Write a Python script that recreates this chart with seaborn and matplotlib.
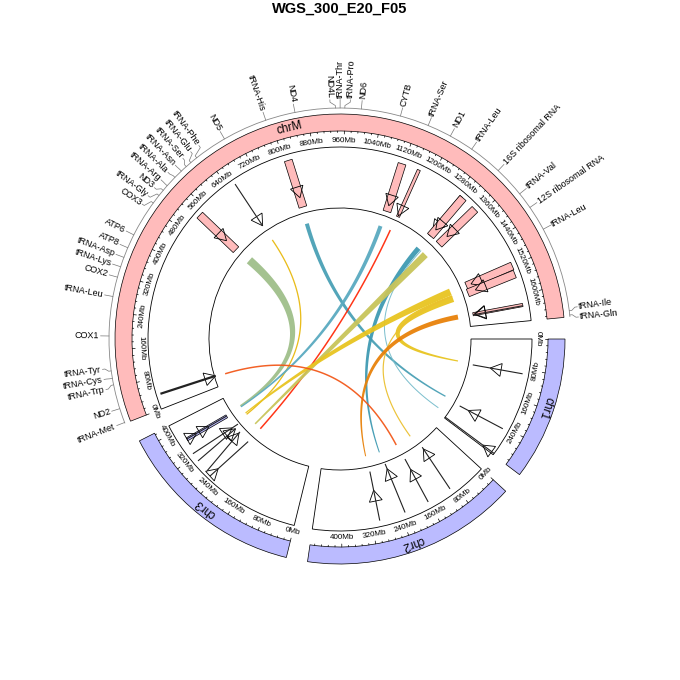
import numpy as np
import matplotlib
matplotlib.use("Agg")
import matplotlib.pyplot as plt
from matplotlib.patches import Wedge, Arc, Polygon
import seaborn as sns

sns.set_style("white")
plt.rcParams["font.family"] = ["Liberation Sans Narrow", "Liberation Sans", "DejaVu Sans"]
plt.rcParams["text.color"] = "black"

title = "WGS_300_E20_F05"

# sectors, lengths in axis units ("Mb" as printed on the axis)
chroms = ["chr1", "chr2", "chr3", "chrM"]
chrom_len = [316, 475, 420, 1670]
chrom_col = ["#BBBBFF", "#BBBBFF", "#BBBBFF", "#FFBBBB"]

# chrM gene annotation
gene_names = ["tRNA-Met", "ND2", "tRNA-Trp", "tRNA-Cys", "tRNA-Tyr", "COX1", "tRNA-Leu",
              "COX2", "tRNA-Lys", "tRNA-Asp", "ATP8", "ATP6", "COX3", "tRNA-Gly", "ND3",
              "tRNA-Arg", "tRNA-Ala", "tRNA-Asn", "tRNA-Ser", "tRNA-Glu", "tRNA-Phe", "ND5",
              "tRNA-His", "ND4", "ND4L", "tRNA-Thr", "tRNA-Pro", "ND6", "CYTB", "tRNA-Ser",
              "ND1", "tRNA-Leu", "16S ribosomal RNA", "tRNA-Val", "12S ribosomal RNA",
              "tRNA-Leu", "tRNA-Ile", "tRNA-Gln"]
gene_pos = [2, 33, 85, 99, 115, 189, 273, 315, 338, 359, 381, 411, 490, 510, 524, 537,
            561, 580, 594, 607, 623, 694, 790, 854, 940, 950, 960, 995, 1079, 1141, 1193,
            1246, 1318, 1385, 1421, 1475, 1657, 1666]

# track arrows: chromosome, start/end position, start/end y (0-1 in track), head place, kind
arr_chr = ["chrM", "chrM", "chrM", "chrM", "chrM", "chrM", "chrM", "chrM", "chrM", "chrM",
           "chrM", "chrM", "chrM",
           "chr1", "chr1", "chr1",
           "chr2", "chr2", "chr2", "chr2",
           "chr3", "chr3", "chr3", "chr3", "chr3", "chr3"]
arr_p0 = [38, 536, 659, 812, 1116, 1163, 1294, 1300, 1343, 1521, 1543, 1627, 1629,
          92, 246, 312,
          299, 229, 162, 95,
          366, 367, 326, 303, 268, 253]
arr_p1 = [42, 529, 657, 816, 1122, 1166, 1297, 1302, 1344, 1523, 1548, 1627, 1629,
          94, 249, 312,
          296, 235, 162, 87,
          357, 358, 310, 303, 284, 239]
arr_y0 = [0.93, 0.92, 0.92, 0.90, 0.90, 0.91, 0.92, 0.92, 0.92, 0.92, 0.91, 0.90, 0.90,
          0.90, 0.90, 1.00,
          0.90, 0.89, 0.89, 0.90,
          0.85, 0.85, 0.91, 0.92, 0.92, 0.95]
arr_y1 = [-0.02, 0.10, 0.10, 0.10, 0.08, 0.07, 0.10, 0.10, 0.10, 0.10, 0.08, 0.07, 0.07,
          0.07, 0.10, 0.00,
          0.08, 0.03, 0.09, 0.08,
          0.10, 0.10, 0.03, 0.11, 0.09, 0.11]
arr_head = [1.0, 0.74, 1.0, 0.80, 0.88, 0.98, 0.90, 0.84, 0.78, 0.90, 0.84, 0.97, 0.97,
            0.65, 0.80, 0.23,
            0.62, 0.90, 0.76, 0.96,
            0.55, 0.02, 0.87, 1.0, 0.97, 0.05]
arr_kind = ["thick", "wide", "line", "wide", "wide", "narrow", "narrow", "wide", "wide",
            "wide", "wide", "narrow", "line",
            "line", "line", "line",
            "line", "line", "line", "line",
            "narrow", "line", "line", "line", "line", "line"]

# links: chrM end -> other end, widths at both ends, colour
link_p1 = [532, 657, 813, 1118, 1161, 1298, 1312, 1336, 1520, 1549, 1540, 1627, 39]
link_c2 = ["chr3", "chr3", "chr1", "chr3", "chr3", "chr2", "chr1", "chr3", "chr3", "chr1",
           "chr2", "chr2", "chr2"]
link_p2 = [360, 318, 243, 356, 237, 241, 298, 266, 325, 90, 99, 299, 166]
link_w1 = [8, 1.3, 4, 4, 1.5, 5, 1.0, 7, 7, 7, 1.2, 5, 1.5]
link_w2 = [2, 1.3, 1.3, 1.2, 1.5, 1.0, 1.0, 1.5, 1.2, 1.2, 1.2, 1.0, 1.5]
link_col = ["#9FBF8A", "#E8B90F", "#4AA0B5", "#5AAAC0", "#FF2A0A", "#3F9AB2", "#76BCCB",
            "#C8C45A", "#E8C420", "#E8C420", "#EBC030", "#E8820A", "#F2581A"]

# ---- layout (pixel space, 680 x 680) ----
cx, cy = 340, 341
gap = 5.5
scale = (360 - gap * len(chroms)) / sum(chrom_len)
sec_start = []
a = 0.0
for L in chrom_len:
    sec_start.append(a)
    a -= L * scale + gap
ci = {c: i for i, c in enumerate(chroms)}

R_BAND_OUT, R_BAND_IN = 225, 208
R_TRK_OUT, R_TRK_IN = 192, 131
R_LINK = 120
R_GENE = 231


def ang(c, pos):
    return sec_start[ci[c]] - np.asarray(pos, dtype=float) * scale


def pt(c, pos, r):
    t = np.deg2rad(ang(c, pos))
    return np.array([cx + r * np.cos(t), cy + r * np.sin(t)])


def nice_rot(deg):
    deg = deg % 360
    return deg - 90 if deg < 180 else deg + 90 - 360


fig = plt.figure(figsize=(6.8, 6.8), dpi=100)
ax = fig.add_axes([0, 0, 1, 1])
ax.set_xlim(0, 680)
ax.set_ylim(0, 680)
ax.set_aspect("equal")
ax.axis("off")

# ideogram, axes, track boxes
for c, L, col in zip(chroms, chrom_len, chrom_col):
    a0, a1 = ang(c, 0), ang(c, L)
    ax.add_patch(Wedge((cx, cy), R_BAND_OUT, a1, a0, width=R_BAND_OUT - R_BAND_IN,
                       facecolor=col, edgecolor="black", lw=0.5))
    ax.add_patch(Wedge((cx, cy), R_TRK_OUT, a1, a0, width=R_TRK_OUT - R_TRK_IN,
                       facecolor="none", edgecolor="black", lw=0.6))
    mid = ang(c, L / 2)
    x, y = pt(c, L / 2, (R_BAND_OUT + R_BAND_IN) / 2)
    ax.text(x, y, c, fontsize=8.5, rotation=mid - 90, ha="center", va="center",
            rotation_mode="anchor")
    for v in np.arange(0, L + 1, 16):
        major = v % 80 == 0
        p0 = pt(c, v, R_BAND_IN)
        p1 = pt(c, v, R_BAND_IN - (3 if major else 1.5))
        ax.plot([p0[0], p1[0]], [p0[1], p1[1]], color="black", lw=0.5)
        if major:
            x, y = pt(c, v, 198.5)
            ax.text(x, y, f"{int(v)}Mb", fontsize=5.8, rotation=nice_rot(ang(c, v)),
                    ha="center", va="center", rotation_mode="anchor")

# track arrows
for c, p0, p1, y0, y1, hd, kind in zip(arr_chr, arr_p0, arr_p1, arr_y0, arr_y1,
                                       arr_head, arr_kind):
    A = pt(c, p0, R_TRK_IN + y0 * (R_TRK_OUT - R_TRK_IN))
    B = pt(c, p1, R_TRK_IN + y1 * (R_TRK_OUT - R_TRK_IN))
    d = B - A
    L = np.hypot(*d)
    u = d / L
    n = np.array([-u[1], u[0]])
    if kind in ("wide", "narrow"):
        w = 4 if kind == "wide" else 1.6
        ax.add_patch(Polygon([A + n * w, B + n * w, B - n * w, A - n * w],
                             facecolor=chrom_col[ci[c]], edgecolor="black", lw=0.5))
    else:
        ax.plot([A[0], B[0]], [A[1], B[1]], color="#222222",
                lw=1.6 if kind == "thick" else 0.8, solid_capstyle="butt")
    tip = A + u * max(L * hd, 11)
    base = tip - u * 11
    ax.add_patch(Polygon([tip, base + n * 6.5, base - n * 6.5], facecolor="none",
                         edgecolor="black", lw=0.6))

# links
ctr = np.array([cx, cy])
for p1, c2, p2, w1, w2, col in zip(link_p1, link_c2, link_p2, link_w1, link_w2, link_col):
    P0 = pt("chrM", p1, R_LINK)
    P2 = pt(c2, p2, R_LINK)
    t = np.linspace(0, 1, 120)[:, None]
    pts = (1 - t) ** 2 * P0 + 2 * (1 - t) * t * ctr + t ** 2 * P2
    dv = 2 * (1 - t) * (ctr - P0) + 2 * t * (P2 - ctr)
    nv = np.hstack([-dv[:, 1:2], dv[:, 0:1]])
    nv /= np.linalg.norm(nv, axis=1, keepdims=True)
    hw = (w1 + (w2 - w1) * t) / 2
    poly = np.vstack([pts + nv * hw, (pts - nv * hw)[::-1]])
    ax.add_patch(Polygon(poly, facecolor=col, edgecolor="none", alpha=0.95))

# gene labels on chrM
La = ang("chrM", chrom_len[ci["chrM"]])
ax.add_patch(Arc((cx, cy), 2 * R_GENE, 2 * R_GENE, theta1=La, theta2=ang("chrM", 0),
                 color="#888888", lw=0.6))
lab = np.array(gene_pos, dtype=float)
sep = 2.45 / scale
for _ in range(400):
    for i in range(len(lab) - 1):
        dd = lab[i + 1] - lab[i]
        if dd < sep:
            s = (sep - dd) / 2
            lab[i] -= s
            lab[i + 1] += s
for name, gp, lp in zip(gene_names, gene_pos, lab):
    q = np.array([pt("chrM", gp, R_GENE), pt("chrM", gp, R_GENE + 2.5),
                  pt("chrM", lp, R_GENE + 6), pt("chrM", lp, R_GENE + 8.5)])
    ax.plot(q[:, 0], q[:, 1], color="#777777", lw=0.5)
    deg = float(ang("chrM", lp)) % 360
    x, y = pt("chrM", lp, R_GENE + 10)
    if 90 < deg < 270:
        ax.text(x, y, name, fontsize=6.5, rotation=deg - 180, ha="right", va="center",
                rotation_mode="anchor")
    else:
        ax.text(x, y, name, fontsize=6.5, rotation=deg, ha="left", va="center",
                rotation_mode="anchor")

fig.text(0.5, 1 - 9 / 680, title, ha="center", va="center", fontsize=10.5,
         fontweight="bold")
fig.savefig("out.png", dpi=100)
